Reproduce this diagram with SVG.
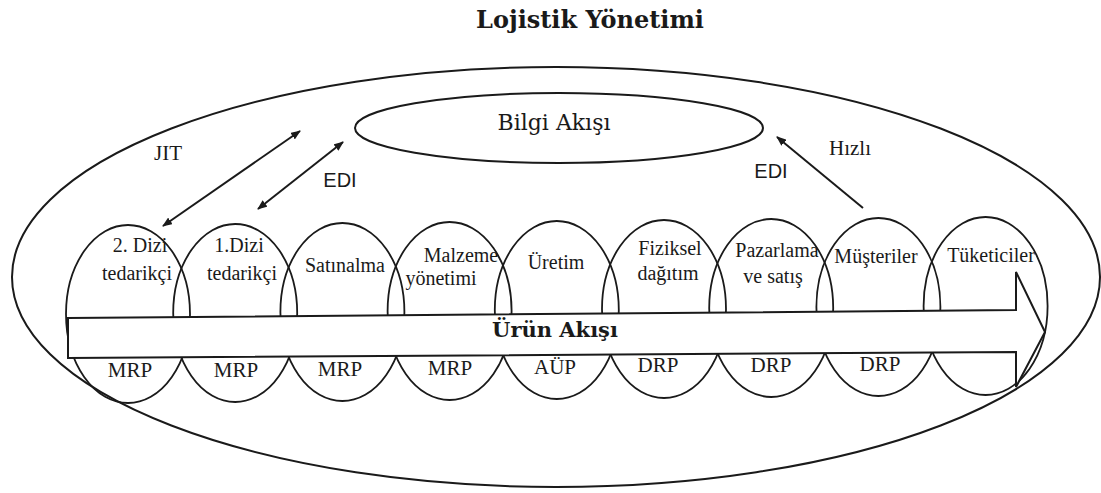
<svg xmlns="http://www.w3.org/2000/svg" width="1101" height="493" viewBox="0 0 1101 493">
  <style>
    .line { fill: none; stroke: #1a1a1a; stroke-width: 2; }
    .node { fill: none; stroke: #1a1a1a; stroke-width: 1.8; }
    .band { fill: #ffffff; stroke: #1a1a1a; stroke-width: 2; stroke-linejoin: miter; }
    .lbl { font-family: "Liberation Serif", "Times New Roman", serif; font-size: 20px; fill: #1a1a1a; text-anchor: middle; }
    .sub { font-family: "Liberation Serif", "Times New Roman", serif; font-size: 21px; fill: #1a1a1a; text-anchor: middle; }
    .sans { font-family: "Liberation Sans", Arial, sans-serif; font-size: 20px; fill: #1a1a1a; text-anchor: middle; }
    .big { font-family: "DejaVu Serif", serif; fill: #1a1a1a; text-anchor: middle; }
    .conn { fill: none; stroke: #1a1a1a; stroke-width: 2; }
  </style>
  <defs>
    <marker id="head" viewBox="0 0 10 8" refX="9" refY="4" markerWidth="10" markerHeight="8" markerUnits="userSpaceOnUse" orient="auto-start-reverse">
      <path d="M0,0 L10,4 L0,8 z" fill="#1a1a1a"/>
    </marker>
  </defs>

  <rect width="1101" height="493" fill="#ffffff"/>

  <!-- title -->
  <text class="big" x="590" y="28" font-size="24" font-weight="bold">Lojistik Yönetimi</text>

  <!-- outer boundary: logistics management -->
  <g id="lojistik">
    <ellipse class="line" cx="556" cy="277" rx="544" ry="210"/>
  </g>

  <!-- information flow -->
  <g id="bilgi-akisi">
    <ellipse class="line" cx="559" cy="128" rx="204" ry="35"/>
    <text class="big" x="554" y="130" font-size="22">Bilgi Akışı</text>
  </g>

  <!-- supply chain stages -->
  <g id="dizi2">
    <ellipse class="node" cx="128" cy="314" rx="62" ry="89"/>
    <text class="lbl" x="140" y="252">2. Dizi</text>
    <text class="lbl" x="137" y="280">tedarikçi</text>
    <text class="sub" x="130" y="377">MRP</text>
  </g>
  <g id="dizi1">
    <ellipse class="node" cx="235.2" cy="313" rx="62" ry="89"/>
    <text class="lbl" x="239" y="252">1.Dizi</text>
    <text class="lbl" x="242" y="280">tedarikçi</text>
    <text class="sub" x="236" y="377">MRP</text>
  </g>
  <g id="satinalma">
    <ellipse class="node" cx="342.4" cy="312" rx="62" ry="89"/>
    <text class="lbl" x="345" y="272">Satınalma</text>
    <text class="sub" x="340" y="376">MRP</text>
  </g>
  <g id="malzeme">
    <ellipse class="node" cx="449.6" cy="311" rx="62" ry="89"/>
    <text class="lbl" x="461" y="262">Malzeme</text>
    <text class="lbl" x="441" y="285">yönetimi</text>
    <text class="sub" x="450" y="375">MRP</text>
  </g>
  <g id="uretim">
    <ellipse class="node" cx="556.8" cy="310" rx="62" ry="89"/>
    <text class="lbl" x="556" y="269">Üretim</text>
    <text class="sub" x="555" y="374">AÜP</text>
  </g>
  <g id="fiziksel">
    <ellipse class="node" cx="664" cy="309" rx="62" ry="89"/>
    <text class="lbl" x="670" y="255">Fiziksel</text>
    <text class="lbl" x="668" y="280">dağıtım</text>
    <text class="sub" x="658" y="372">DRP</text>
  </g>
  <g id="pazarlama">
    <ellipse class="node" cx="771.2" cy="308" rx="62" ry="89"/>
    <text class="lbl" x="777" y="257">Pazarlama</text>
    <text class="lbl" x="773" y="283">ve satış</text>
    <text class="sub" x="771" y="372">DRP</text>
  </g>
  <g id="musteriler">
    <ellipse class="node" cx="878.4" cy="307" rx="62" ry="89"/>
    <text class="lbl" x="876" y="263">Müşteriler</text>
    <text class="sub" x="880" y="371">DRP</text>
  </g>
  <g id="tuketiciler">
    <ellipse class="node" cx="985.6" cy="306" rx="62" ry="89"/>
    <text class="lbl" x="991" y="262">Tüketiciler</text>
  </g>

  <!-- product flow block arrow -->
  <g id="urun-akisi">
    <polygon class="band" points="68,318 1016,310 1016,272 1045,332 1016,387 1016,352 68,358"/>
    <text class="big" x="555" y="337" font-size="21" font-weight="bold">Ürün Akışı</text>
  </g>

  <!-- information links -->
  <g id="connectors">
    <line class="conn" x1="163" y1="226" x2="300" y2="131" marker-start="url(#head)" marker-end="url(#head)"/>
    <line class="conn" x1="258" y1="209" x2="343" y2="142" marker-start="url(#head)" marker-end="url(#head)"/>
    <line class="conn" x1="863" y1="208" x2="777" y2="137" marker-end="url(#head)"/>
    <text class="sub" x="168" y="160">JIT</text>
    <text class="sans" x="340" y="187">EDI</text>
    <text class="sans" x="771" y="178">EDI</text>
    <text class="sub" x="850" y="155">Hızlı</text>
  </g>
</svg>
